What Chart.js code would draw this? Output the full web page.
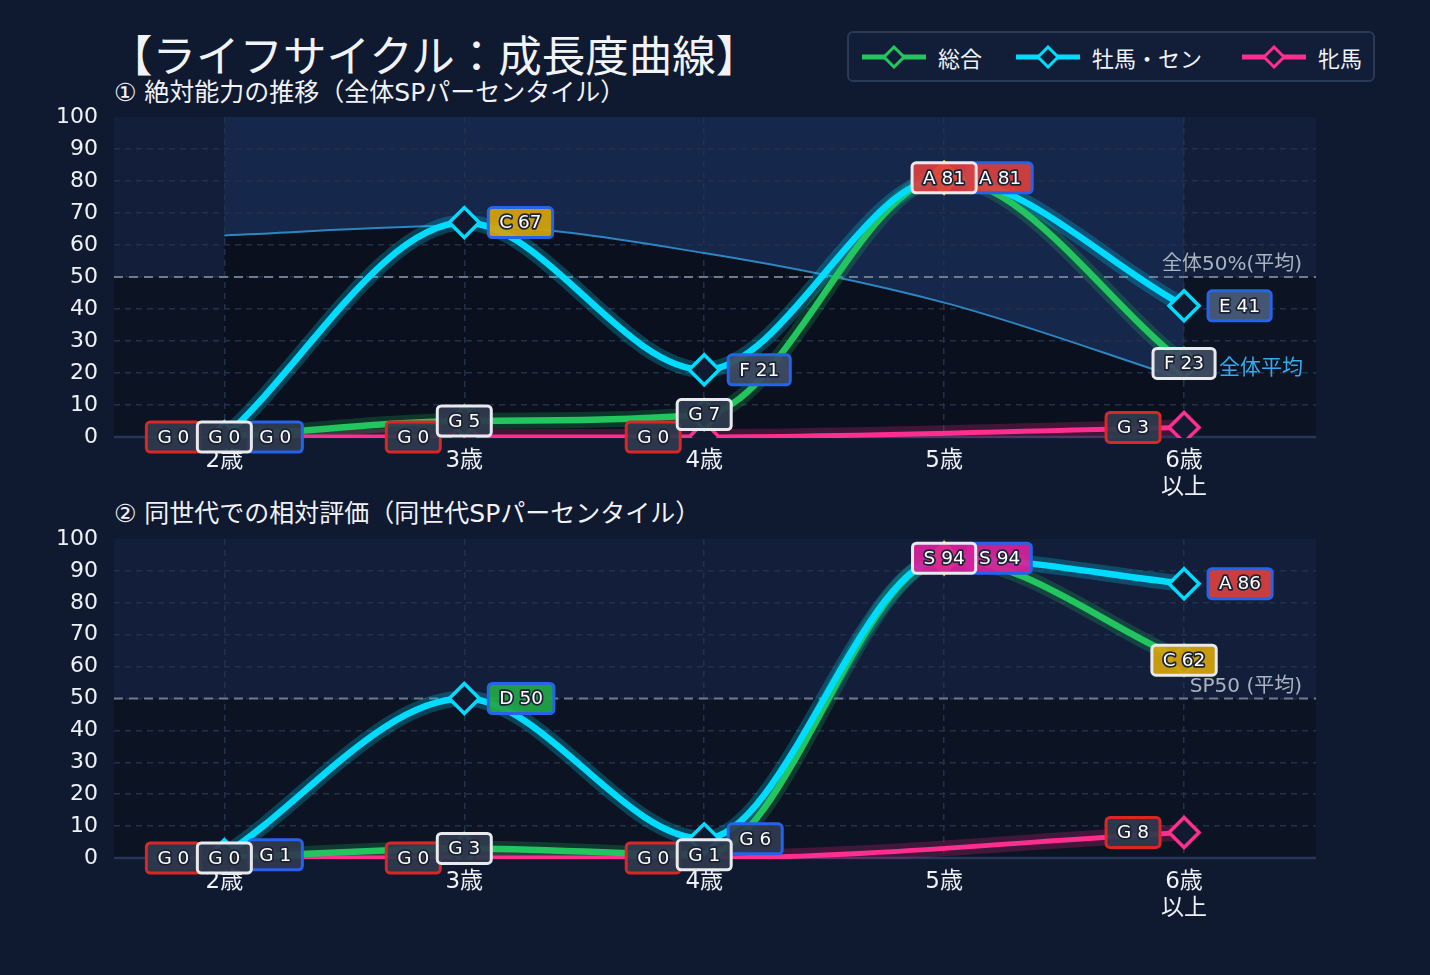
<!DOCTYPE html>
<html>
<head>
<meta charset="utf-8">
<script src="https://cdn.jsdelivr.net/npm/chart.js@4.4.1/dist/chart.umd.min.js"></script>
<style>
  body { margin: 0; width: 1430px; height: 975px; overflow: hidden; position: relative;
         background: #0f1930; color: #f1f3f7; font-family: "DejaVu Sans", "Noto Sans CJK JP", sans-serif; }
  #title { position: absolute; left: 109px; top: 24px; font-size: 43.5px; line-height: 60px; white-space: nowrap;
           font-family: "Noto Sans CJK JP", sans-serif; }
  .sub { position: absolute; left: 114px; font-size: 25px; line-height: 30px; white-space: nowrap; }
  #legend { position: absolute; left: 847px; top: 31px; width: 524px; height: 47px;
            border: 2px solid #2a3956; border-radius: 6px; background: #121d37; }
  .item { position: absolute; top: 0; height: 47px; display: flex; align-items: center; font-size: 22px; }
  .item svg { margin-right: 12px; }
  .box { position: absolute; left: 0; }
</style>
</head>
<body>
<div id="title">【ライフサイクル：成長度曲線】</div>
<div class="sub" style="top:78px">① 絶対能力の推移（全体SPパーセンタイル）</div>
<div class="sub" style="top:499px">② 同世代での相対評価（同世代SPパーセンタイル）</div>
<div id="legend"></div>
<div class="box" style="top:100px"><canvas id="absChart" width="1430" height="410"></canvas></div>
<div class="box" style="top:520px"><canvas id="relChart" width="1430" height="415"></canvas></div>

<script>
// 年齢区分
const ages = ['2歳', '3歳', '4歳', '5歳', ['6歳', '以上']];

// ① 絶対能力（全体SPパーセンタイル）
const absTotal = [0, 5, 7, 81, 23];
const absMale = [0, 67, 21, 81, 41];
const absFemale = [0, 0, 0, null, 3];
const absAvg = [63, 66, 57.5, 42, 18];

// ② 同世代での相対評価（同世代SPパーセンタイル）
const relTotal = [0, 3, 1, 94, 62];
const relMale = [1, 50, 6, 94, 86];
const relFemale = [0, 0, 0, null, 8];

const seriesNames = ['総合', '牡馬・セン', '牝馬'];
const GREEN = '#22c55e', CYAN = '#00dcff', PINK = '#ff2e8f';
const FONT = '"DejaVu Sans", "Noto Sans CJK JP", sans-serif';

Chart.defaults.font.family = FONT;
Chart.defaults.color = '#eef1f6';

const gradeColors = { S: '#d8209a', A: '#d9413f', B: '#e07a1e', C: '#d6a40c', D: '#22a648', E: '#4a5b7a', F: '#3e4b62', G: '#2f3a4f' };
function grade(v) {
    if (v >= 90) return 'S';
    if (v >= 80) return 'A';
    if (v >= 70) return 'B';
    if (v >= 60) return 'C';
    if (v >= 50) return 'D';
    if (v >= 40) return 'E';
    if (v >= 20) return 'F';
    return 'G';
}

// legend (HTML)
const legendDefs = [[GREEN, 13], [CYAN, 167], [PINK, 393]];
document.getElementById('legend').innerHTML = legendDefs.map(([c, left], i) => `
  <div class="item" style="left:${left}px">
    <svg width="64" height="24"><line x1="0" y1="12" x2="64" y2="12" stroke="${c}" stroke-width="5"/>
    <polygon points="32,2 42,12 32,22 22,12" fill="#121d37" stroke="${c}" stroke-width="3"/></svg>
    <span>${seriesNames[i]}</span></div>`).join('');

const pts = arr => arr.map((v, i) => ({ x: i, y: v }));

function lineSet(label, data, color, width, side, frame, z, order) {
    return {
        label, data: pts(data), borderColor: color, borderWidth: width,
        pointStyle: 'rectRot', pointRadius: 15, pointBorderWidth: 3.5,
        pointBorderColor: color, pointBackgroundColor: '#101a30',
        cubicInterpolationMode: 'monotone', spanGaps: true, order,
        clip: { left: false, right: false, top: false, bottom: 1 },
        side, frame, z
    };
}
function glowSet(data, color, order) {
    return {
        data: pts(data), borderColor: color, borderWidth: 16, pointRadius: 0,
        cubicInterpolationMode: 'monotone', spanGaps: true, order,
        clip: { left: false, right: false, top: false, bottom: 1 }
    };
}
function peakSet(data) {
    const top = Math.max(...data.filter(v => v !== null));
    return {
        data: pts(data.map(v => (v === top ? v : null))), showLine: false,
        pointStyle: 'rectRot', pointRadius: 18, pointBackgroundColor: '#f2b705', pointBorderWidth: 0, order: 0
    };
}

function buildSets(total, male, female, avg) {
    const sets = [
        glowSet(total, 'rgba(34,197,94,0.22)', 12),
        glowSet(male, 'rgba(0,220,255,0.24)', 11),
        glowSet(female, 'rgba(255,46,143,0.22)', 13),
        lineSet(seriesNames[2], female, PINK, 5, 'left', '#dc2626', 0, 3),
        lineSet(seriesNames[0], total, GREEN, 6.5, 'center', '#e8eaee', 2, 2),
        lineSet(seriesNames[1], male, CYAN, 6.5, 'right', '#2563eb', 1, 1),
        peakSet(total)
    ];
    if (avg) {
        sets.push({
            label: '全体平均', data: pts(avg), borderColor: '#2e86c1', borderWidth: 2,
            pointRadius: 0, cubicInterpolationMode: 'monotone', order: 20, avgFill: true
        });
    }
    return sets;
}

// background bands + fill around the average line, drawn under the grid
const bandsPlugin = {
    id: 'bands',
    beforeDraw(chart) {
        const { ctx, chartArea: a, scales: { y } } = chart;
        const y50 = y.getPixelForValue(50);
        ctx.save();
        ctx.fillStyle = '#131f3a';
        ctx.fillRect(a.left, a.top, a.width, y50 - a.top);
        ctx.fillStyle = '#0c1323';
        ctx.fillRect(a.left, y50, a.width, a.bottom - y50);
        const idx = chart.data.datasets.findIndex(d => d.avgFill);
        if (idx >= 0) {
            const meta = chart.getDatasetMeta(idx);
            const line = meta.dataset;
            if (line.updateControlPoints) line.updateControlPoints(a, 'x');
            const p = meta.data;
            const x0 = p[0].x, x1 = p[p.length - 1].x;
            [[a.top, '#15274a'], [a.bottom, '#0a101e']].forEach(([edge, col]) => {
                ctx.beginPath();
                line.path(ctx);
                ctx.lineTo(x1, edge);
                ctx.lineTo(x0, edge);
                ctx.closePath();
                ctx.fillStyle = col;
                ctx.fill();
            });
        }
        ctx.restore();
    }
};

// 50 reference line, axis line and texts
const refPlugin = {
    id: 'ref50',
    beforeDatasetsDraw(chart, args, opts) {
        const { ctx, chartArea: a, scales: { y } } = chart;
        const yy = y.getPixelForValue(50);
        ctx.save();
        ctx.strokeStyle = '#6f7a8e';
        ctx.lineWidth = 2;
        ctx.setLineDash([9, 6]);
        ctx.beginPath(); ctx.moveTo(a.left, yy); ctx.lineTo(a.right, yy); ctx.stroke();
        ctx.setLineDash([]);
        ctx.strokeStyle = '#26375a';
        ctx.lineWidth = 2.5;
        ctx.beginPath(); ctx.moveTo(a.left, a.bottom); ctx.lineTo(a.right, a.bottom); ctx.stroke();
        ctx.font = '20px ' + FONT;
        ctx.fillStyle = '#aab3c2';
        ctx.textAlign = 'right';
        ctx.textBaseline = 'bottom';
        ctx.fillText(opts.text, a.right - 14, yy - 2);
        const idx = chart.data.datasets.findIndex(d => d.avgFill);
        if (idx >= 0) {
            const p = chart.getDatasetMeta(idx).data;
            const last = p[p.length - 1];
            ctx.font = '21px ' + FONT;
            ctx.fillStyle = '#38a9ea';
            ctx.textAlign = 'left';
            ctx.textBaseline = 'middle';
            ctx.fillText(chart.data.datasets[idx].label, last.x + 35, last.y - 11);
        }
        ctx.restore();
    }
};

// grade labels next to each point
const gradePlugin = {
    id: 'grades',
    afterDatasetsDraw(chart) {
        const ctx = chart.ctx;
        const sets = chart.data.datasets.map((d, i) => [d, i]).filter(([d]) => d.side).sort((a, b) => a[0].z - b[0].z);
        ctx.save();
        ctx.font = '18.5px ' + FONT;
        ctx.textBaseline = 'middle';
        ctx.textAlign = 'center';
        sets.forEach(([ds, i]) => {
            const meta = chart.getDatasetMeta(i);
            ds.data.forEach((d, j) => {
                if (d.y === null) return;
                const el = meta.data[j];
                const g = grade(d.y);
                const text = g + ' ' + Math.round(d.y);
                const w = ctx.measureText(text).width + 22, h = 30;
                let left = el.x - w / 2;
                if (ds.side === 'right') left = el.x + 24;
                if (ds.side === 'left') left = el.x - 24 - w;
                const top = el.y - h / 2;
                ctx.beginPath();
                ctx.roundRect(left, top, w, h, 4);
                ctx.globalAlpha = 0.93;
                ctx.fillStyle = gradeColors[g];
                ctx.fill();
                ctx.globalAlpha = 1;
                ctx.lineWidth = 3;
                ctx.strokeStyle = ds.frame;
                ctx.stroke();
                ctx.lineWidth = 3.5;
                ctx.lineJoin = 'round';
                ctx.strokeStyle = '#1a2233';
                ctx.strokeText(text, left + w / 2, el.y + 1);
                ctx.fillStyle = '#ffffff';
                ctx.fillText(text, left + w / 2, el.y + 1);
            });
        });
        ctx.restore();
    }
};

function makeChart(id, sets, refText, xHeight, padTop) {
    return new Chart(document.getElementById(id), {
        type: 'line',
        data: { datasets: sets },
        options: {
            responsive: false,
            animation: false,
            layout: { autoPadding: false, padding: { top: padTop, right: 114, left: 0, bottom: 0 } },
            plugins: {
                legend: { display: false },
                tooltip: { enabled: false },
                ref50: { text: refText }
            },
            scales: {
                x: {
                    type: 'linear', min: -0.46, max: 4.55,
                    afterBuildTicks(s) { s.ticks = ages.map((a, i) => ({ value: i })); },
                    afterFit(s) { s.height = xHeight; },
                    ticks: { callback: v => ages[v], color: '#eef1f6', font: { size: 23, lineHeight: 1.15 }, padding: 11, autoSkip: false, maxRotation: 0 },
                    grid: { color: '#22304c', lineWidth: 1.5, drawTicks: false },
                    border: { display: false, dash: [6, 5] }
                },
                y: {
                    min: 0, max: 100,
                    afterFit(s) { s.width = 114; s.paddingTop = 0; s.paddingBottom = 0; },
                    ticks: { stepSize: 10, color: '#eef1f6', font: { size: 22 }, padding: 16 },
                    grid: { color: c => (c.tick.value === 100 ? 'rgba(0,0,0,0)' : '#22304c'), lineWidth: 1.5, drawTicks: false },
                    border: { display: false, dash: [6, 5] }
                }
            }
        },
        plugins: [bandsPlugin, refPlugin, gradePlugin]
    });
}

makeChart('absChart', buildSets(absTotal, absMale, absFemale, absAvg), '全体50%(平均)', 73, 17);
makeChart('relChart', buildSets(relTotal, relMale, relFemale, null), 'SP50 (平均)', 77, 19);
</script>
</body>
</html>
